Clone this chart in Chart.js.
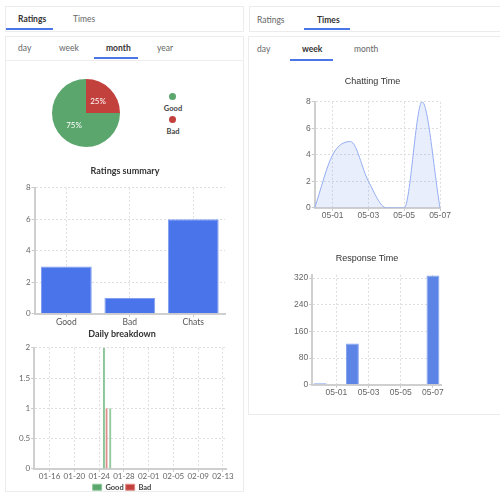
<!DOCTYPE html>
<html>
<head>
<meta charset="utf-8">
<script src="https://cdn.jsdelivr.net/npm/chart.js@4.4.0/dist/chart.umd.min.js"></script>
<style>
  body { margin: 0; background: #fff; font-family: Lato, "Open Sans", sans-serif; }
  .abs { position: absolute; }
  .box { position: absolute; border: 1px solid #ececec; box-sizing: border-box; }
  .tab { position: absolute; font-size: 8.5px; line-height: 10px; color: #666; }
  .tab.on { font-weight: bold; color: #333; }
  .bar { position: absolute; height: 2px; background: #4a76e8; }
  canvas { position: absolute; }
  .lg { position: absolute; font-size: 7.5px; font-weight: bold; color: #444; text-align: center; width: 30px; }
  .dot { position: absolute; width: 7px; height: 7px; border-radius: 50%; }
</style>
</head>
<body>
<!-- left panel -->
<div class="box" style="left:5px;top:6px;width:239px;height:26px"></div>
<span class="tab on" style="left:18px;top:14px">Ratings</span>
<span class="tab" style="left:73px;top:14px">Times</span>
<div class="bar" style="left:6px;top:28px;width:47px"></div>

<div class="box" style="left:5px;top:36px;width:239px;height:456px"></div>
<span class="tab" style="left:18px;top:43px">day</span>
<span class="tab" style="left:59px;top:43px">week</span>
<span class="tab on" style="left:106px;top:43px">month</span>
<span class="tab" style="left:157px;top:43px">year</span>
<div class="bar" style="left:94px;top:57px;width:44px"></div>
<div class="abs" style="left:6px;top:60px;width:237px;height:1px;background:#eee"></div>

<canvas id="pie" width="70" height="70" style="left:51px;top:78px"></canvas>
<div class="dot" style="left:169px;top:93px;background:#5ba66d"></div>
<span class="lg" style="left:158px;top:104px">Good</span>
<div class="dot" style="left:169px;top:116px;background:#c2413d"></div>
<span class="lg" style="left:158px;top:127px">Bad</span>

<canvas id="summary" width="228" height="167" style="left:8px;top:160px"></canvas>
<canvas id="daily" width="228" height="173" style="left:8px;top:328px"></canvas>

<!-- right panel -->
<div class="box" style="left:249px;top:6px;width:260px;height:26px"></div>
<span class="tab" style="left:257px;top:15px">Ratings</span>
<span class="tab on" style="left:317px;top:15px">Times</span>
<div class="bar" style="left:304px;top:28px;width:46px"></div>

<div class="box" style="left:248px;top:36px;width:260px;height:379px"></div>
<span class="tab" style="left:257px;top:44px">day</span>
<span class="tab on" style="left:302px;top:44px">week</span>
<span class="tab" style="left:354px;top:44px">month</span>
<div class="bar" style="left:290px;top:59px;width:43px"></div>

<canvas id="chatting" width="170" height="151" style="left:285px;top:70px"></canvas>
<canvas id="response" width="170" height="150" style="left:285px;top:248px"></canvas>

<script>
// ratings
var ratingLabels = ["Good", "Bad"];
var ratingCounts = [3, 1];
var ratingColors = ["#5ba66d", "#c2413d"];

var summaryLabels = ["Good", "Bad", "Chats"];
var summaryValues = [3, 1, 6];

// daily breakdown (01-14 .. 02-13)
var dailyDays = ["01-14","01-15","01-16","01-17","01-18","01-19","01-20","01-21","01-22","01-23",
  "01-24","01-25","01-26","01-27","01-28","01-29","01-30","01-31","02-01","02-02",
  "02-03","02-04","02-05","02-06","02-07","02-08","02-09","02-10","02-11","02-12","02-13"];
var dailyGood = { "01-25": 2, "01-26": 1 };
var dailyBad = { "01-25": 1 };
var dailyTicks = [0, 0.5, 1, 1.5, 2];

// times, week
var weekDays = ["04-30", "05-01", "05-02", "05-03", "05-04", "05-05", "05-06", "05-07"];
var chattingTime = [0, 4, 5, 2, 0, 0, 8, 0];
var responseTime = [5, 0, 124, 0, 0, 0, 0, 328];
var responseTicks = [0, 80, 160, 240, 320];

var srcFont = "Lato, 'Open Sans', sans-serif";
var arialFont = "'Liberation Sans', Arial, sans-serif";
var blue = "#4a74ea";

function dotted(showFn, font, size) {
  return {
    grid: {
      offset: false,
      color: function (c) { return showFn(c.index) ? "#dedede" : "rgba(0,0,0,0)"; },
      tickColor: function (c) { return showFn(c.index) ? "#c8c8c8" : "rgba(0,0,0,0)"; },
      tickLength: 3,
      tickBorderDash: [],
      lineWidth: 1
    },
    border: { color: "#cfcfcf", width: 2, dash: [2, 2] },
    ticks: { font: { family: font, size: size }, color: "#666", padding: 1, autoSkip: false }
  };
}

var always = function () { return true; };
function fixedTicks(list) {
  return function (axis) {
    axis.ticks = list.map(function (v) { return { value: v }; });
  };
}

// pie with percentage labels
var pctPlugin = {
  id: "pct",
  afterDatasetsDraw: function (chart) {
    var ctx = chart.ctx;
    var meta = chart.getDatasetMeta(0);
    var total = ratingCounts.reduce(function (a, b) { return a + b; }, 0);
    ctx.save();
    ctx.fillStyle = "#fff";
    ctx.font = "8px " + srcFont;
    ctx.textAlign = "center";
    ctx.textBaseline = "middle";
    meta.data.forEach(function (arc, i) {
      var p = arc.tooltipPosition();
      ctx.fillText(Math.round(ratingCounts[i] / total * 100) + "%", p.x, p.y);
    });
    ctx.restore();
  }
};

new Chart(document.getElementById("pie"), {
  type: "pie",
  data: {
    labels: ratingLabels,
    datasets: [{ data: ratingCounts, backgroundColor: ratingColors, borderWidth: 0 }]
  },
  options: {
    responsive: false,
    animation: false,
    rotation: 90,
    layout: { padding: 1 },
    plugins: { legend: { display: false }, tooltip: { enabled: false } }
  },
  plugins: [pctPlugin]
});

var sx = dotted(always, srcFont, 8.5);
sx.ticks.color = "#555";
sx.ticks.padding = 0;
var sy = dotted(always, srcFont, 8);
sy.min = 0; sy.max = 8; sy.ticks.stepSize = 2;

new Chart(document.getElementById("summary"), {
  type: "bar",
  data: {
    labels: summaryLabels,
    datasets: [{
      data: summaryValues,
      backgroundColor: blue,
      borderColor: "#7f9df2",
      borderWidth: 1,
      categoryPercentage: 0.8,
      barPercentage: 1
    }]
  },
  options: {
    responsive: false,
    animation: false,
    layout: { padding: { left: 17, right: 11, top: 0, bottom: 0 } },
    scales: { x: sx, y: sy },
    plugins: {
      legend: { display: false },
      title: { display: true, text: "Ratings summary", color: "#333",
        font: { family: srcFont, size: 9, weight: "bold" }, padding: { top: 6, bottom: 11 } }
    }
  }
});

var dailyShow = function (i) { return i % 4 === 2; };
var dx = dotted(dailyShow, srcFont, 8);
dx.ticks.maxRotation = 0;
dx.ticks.padding = 0;
dx.ticks.callback = function (v, i) { return dailyShow(i) ? dailyDays[i] : ""; };
var dy = dotted(always, srcFont, 8);
dy.min = 0; dy.max = 2;
dy.afterBuildTicks = fixedTicks(dailyTicks);
dy.ticks.callback = function (v) { return String(v); };

new Chart(document.getElementById("daily"), {
  type: "bar",
  data: {
    labels: dailyDays,
    datasets: [
      { label: "Good", data: dailyDays.map(function (d) { return dailyGood[d] || 0; }),
        backgroundColor: ratingColors[0], borderColor: "#8cc79a", borderWidth: 1 },
      { label: "Bad", data: dailyDays.map(function (d) { return dailyBad[d] || 0; }),
        backgroundColor: ratingColors[1], borderColor: "#de8a86", borderWidth: 1 }
    ]
  },
  options: {
    responsive: false,
    animation: false,
    layout: { padding: { left: 10, right: 10, top: 0, bottom: 0 } },
    scales: { x: dx, y: dy },
    plugins: {
      legend: { position: "bottom",
        labels: { boxWidth: 9, boxHeight: 6, padding: 2, color: "#444",
          font: { family: srcFont, size: 7.5, weight: "bold" } } },
      title: { display: true, text: "Daily breakdown", color: "#333",
        font: { family: srcFont, size: 9, weight: "bold" }, padding: { top: 1, bottom: 8 } }
    }
  }
});

var weekShow = function (i) { return i % 2 === 1; };
var cx = dotted(weekShow, arialFont, 8.5);
cx.ticks.maxRotation = 0;
cx.ticks.padding = 0;
cx.ticks.callback = function (v, i) { return weekShow(i) ? weekDays[i] : ""; };
var cy = dotted(always, arialFont, 8.5);
cy.min = 0; cy.max = 8; cy.ticks.stepSize = 2;

new Chart(document.getElementById("chatting"), {
  type: "line",
  data: {
    labels: weekDays,
    datasets: [{
      data: chattingTime,
      borderColor: "#94acf2",
      backgroundColor: "rgba(120,150,235,0.16)",
      borderWidth: 1,
      fill: true,
      pointRadius: 0,
      cubicInterpolationMode: "monotone"
    }]
  },
  options: {
    responsive: false,
    animation: false,
    layout: { padding: { left: 20, right: 15, top: 0, bottom: 0 } },
    scales: { x: cx, y: cy },
    plugins: {
      legend: { display: false },
      title: { display: true, text: "Chatting Time", color: "#333",
        font: { family: arialFont, size: 9, weight: "normal" }, padding: { top: 6, bottom: 15 } }
    }
  }
});

var rx = dotted(weekShow, arialFont, 8.5);
rx.ticks.maxRotation = 0;
rx.ticks.padding = 0;
rx.ticks.callback = function (v, i) { return weekShow(i) ? weekDays[i] : ""; };
var ry = dotted(always, arialFont, 8.5);
ry.min = 0; ry.max = 330;
ry.afterBuildTicks = fixedTicks(responseTicks);

new Chart(document.getElementById("response"), {
  type: "bar",
  data: {
    labels: weekDays,
    datasets: [{
      data: responseTime,
      backgroundColor: "#5b84e6",
      borderColor: "#86a4ee",
      borderWidth: 1,
      categoryPercentage: 0.8,
      barPercentage: 1
    }]
  },
  options: {
    responsive: false,
    animation: false,
    layout: { padding: { left: 8, right: 14, top: 0, bottom: 0 } },
    scales: { x: rx, y: ry },
    plugins: {
      legend: { display: false },
      title: { display: true, text: "Response Time", color: "#333",
        font: { family: arialFont, size: 9, weight: "normal" }, padding: { top: 5, bottom: 11 } }
    }
  }
});
</script>
</body>
</html>
